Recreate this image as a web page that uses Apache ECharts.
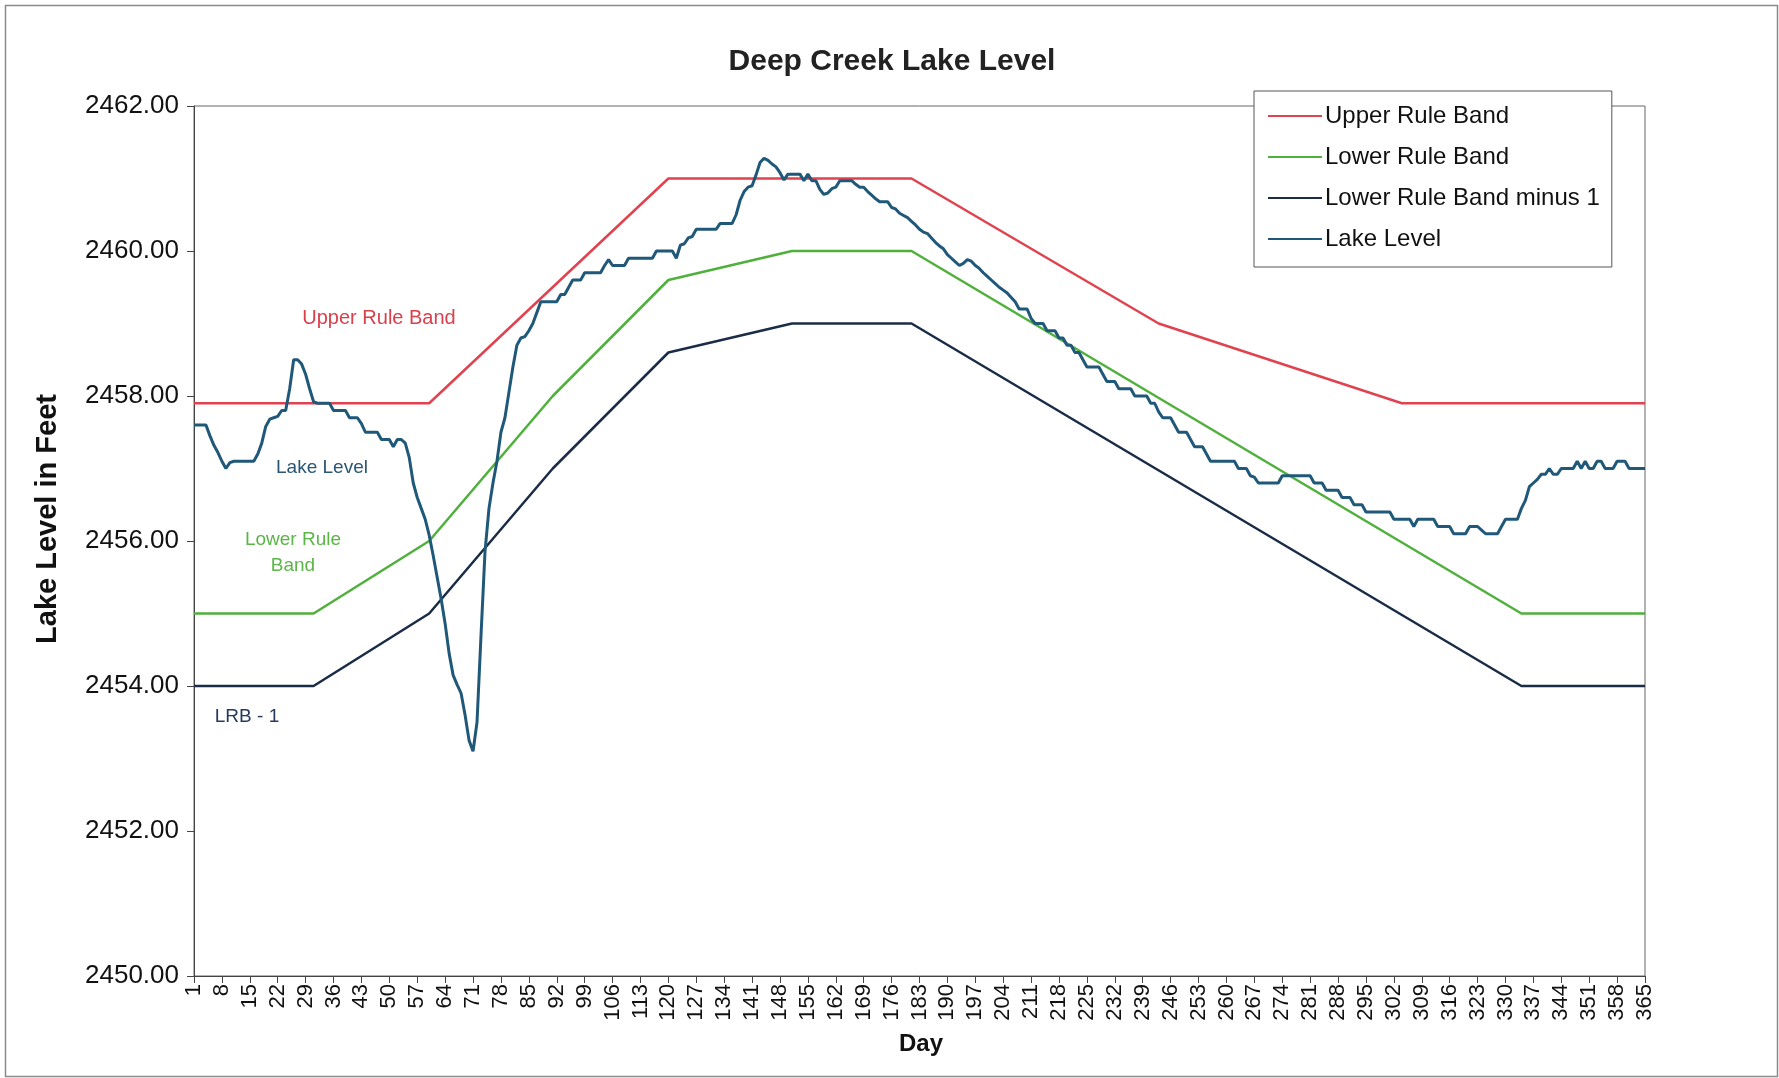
<!DOCTYPE html>
<html>
<head>
<meta charset="utf-8">
<script src="https://cdn.jsdelivr.net/npm/echarts@6/dist/echarts.min.js"></script>
<style>
html,body{margin:0;padding:0;background:#fff;}
#chart{width:1779px;height:1078px;}
</style>
</head>
<body>
<div id="chart"></div>
<script>
// ---- Data ----
const dayCount = 365;
const yTicks = [2450, 2452, 2454, 2456, 2458, 2460, 2462];

// Rule band break points (day, level); straight segments between them
const upperDays = [1, 60, 120, 181, 243, 304, 365];
const upperVals = [2457.9, 2457.9, 2461.0, 2461.0, 2459.0, 2457.9, 2457.9];

const lowerDays = [1, 31, 60, 91, 120, 151, 181, 334, 365];
const lowerVals = [2455.0, 2455.0, 2456.0, 2458.0, 2459.6, 2460.0, 2460.0, 2455.0, 2455.0];

const lrbDays = [1, 31, 60, 91, 120, 151, 181, 334, 365];
const lrbVals = [2454.0, 2454.0, 2455.0, 2457.0, 2458.6, 2459.0, 2459.0, 2454.0, 2454.0];

// Daily lake level, days 1..365
const lakeLevel = [
  2457.6, 2457.6, 2457.6, 2457.6, 2457.45, 2457.32, 2457.22, 2457.1, 2457.0, 2457.08,
  2457.1, 2457.1, 2457.1, 2457.1, 2457.1, 2457.1, 2457.2, 2457.35, 2457.58, 2457.68,
  2457.7, 2457.72, 2457.8, 2457.8, 2458.1, 2458.5, 2458.5, 2458.44, 2458.3, 2458.1,
  2457.92, 2457.9, 2457.9, 2457.9, 2457.9, 2457.8, 2457.8, 2457.8, 2457.8, 2457.7,
  2457.7, 2457.7, 2457.62, 2457.5, 2457.5, 2457.5, 2457.5, 2457.4, 2457.4, 2457.4,
  2457.3, 2457.4, 2457.4, 2457.35, 2457.15, 2456.8, 2456.6, 2456.45, 2456.3, 2456.08,
  2455.8, 2455.5, 2455.2, 2454.86, 2454.45, 2454.15, 2454.02, 2453.9, 2453.6, 2453.25,
  2453.1, 2453.5, 2454.7, 2455.85, 2456.45, 2456.8, 2457.1, 2457.5, 2457.7, 2458.05,
  2458.4, 2458.7, 2458.8, 2458.82, 2458.9, 2459.0, 2459.15, 2459.3, 2459.3, 2459.3,
  2459.3, 2459.3, 2459.4, 2459.4, 2459.5, 2459.6, 2459.6, 2459.6, 2459.7, 2459.7,
  2459.7, 2459.7, 2459.7, 2459.8, 2459.88, 2459.8, 2459.8, 2459.8, 2459.8, 2459.9,
  2459.9, 2459.9, 2459.9, 2459.9, 2459.9, 2459.9, 2460.0, 2460.0, 2460.0, 2460.0,
  2460.0, 2459.9, 2460.08, 2460.1, 2460.18, 2460.2, 2460.3, 2460.3, 2460.3, 2460.3,
  2460.3, 2460.3, 2460.38, 2460.38, 2460.38, 2460.38, 2460.5, 2460.7, 2460.82, 2460.88,
  2460.9, 2461.05, 2461.22, 2461.28, 2461.25, 2461.2, 2461.16, 2461.08, 2460.98, 2461.06,
  2461.06, 2461.06, 2461.06, 2460.97, 2461.06, 2460.97, 2460.97, 2460.85, 2460.78, 2460.8,
  2460.86, 2460.88, 2460.97, 2460.97, 2460.97, 2460.97, 2460.92, 2460.88, 2460.88, 2460.82,
  2460.77, 2460.72, 2460.68, 2460.68, 2460.68, 2460.6, 2460.58, 2460.52, 2460.49, 2460.46,
  2460.41, 2460.36, 2460.3, 2460.26, 2460.24, 2460.18, 2460.12, 2460.07, 2460.03, 2459.95,
  2459.9, 2459.85, 2459.8, 2459.83, 2459.88, 2459.86, 2459.8, 2459.76, 2459.7, 2459.65,
  2459.6, 2459.55, 2459.5, 2459.46, 2459.42, 2459.36, 2459.3, 2459.2, 2459.2, 2459.2,
  2459.07, 2459.0, 2459.0, 2459.0, 2458.9, 2458.9, 2458.9, 2458.8, 2458.8, 2458.7,
  2458.7, 2458.6, 2458.6, 2458.5, 2458.4, 2458.4, 2458.4, 2458.4, 2458.3, 2458.2,
  2458.2, 2458.2, 2458.1, 2458.1, 2458.1, 2458.1, 2458.0, 2458.0, 2458.0, 2458.0,
  2457.9, 2457.9, 2457.78, 2457.7, 2457.7, 2457.7, 2457.6, 2457.5, 2457.5, 2457.5,
  2457.4, 2457.3, 2457.3, 2457.3, 2457.2, 2457.1, 2457.1, 2457.1, 2457.1, 2457.1,
  2457.1, 2457.1, 2457.0, 2457.0, 2457.0, 2456.9, 2456.88, 2456.8, 2456.8, 2456.8,
  2456.8, 2456.8, 2456.8, 2456.9, 2456.9, 2456.9, 2456.9, 2456.9, 2456.9, 2456.9,
  2456.9, 2456.8, 2456.8, 2456.8, 2456.7, 2456.7, 2456.7, 2456.7, 2456.6, 2456.6,
  2456.6, 2456.5, 2456.5, 2456.5, 2456.4, 2456.4, 2456.4, 2456.4, 2456.4, 2456.4,
  2456.4, 2456.3, 2456.3, 2456.3, 2456.3, 2456.3, 2456.2, 2456.3, 2456.3, 2456.3,
  2456.3, 2456.3, 2456.2, 2456.2, 2456.2, 2456.2, 2456.1, 2456.1, 2456.1, 2456.1,
  2456.2, 2456.2, 2456.2, 2456.15, 2456.1, 2456.1, 2456.1, 2456.1, 2456.2, 2456.3,
  2456.3, 2456.3, 2456.3, 2456.45, 2456.56, 2456.75, 2456.8, 2456.85, 2456.92, 2456.92,
  2457.0, 2456.92, 2456.92, 2457.0, 2457.0, 2457.0, 2457.0, 2457.1, 2457.0, 2457.1,
  2457.0, 2457.0, 2457.1, 2457.1, 2457.0, 2457.0, 2457.0, 2457.1, 2457.1, 2457.1,
  2457.0, 2457.0, 2457.0, 2457.0, 2457.0
];

const seriesNames = ['Upper Rule Band', 'Lower Rule Band', 'Lower Rule Band minus 1', 'Lake Level'];
const seriesColors = ['#e0434f', '#4fb03c', '#1b2c47', '#1f5878'];

// ---- Build library inputs ----
const days = Array.from({length: dayCount}, (_, i) => String(i + 1));
function breaksToSeries(bd, bv) {
  const arr = new Array(dayCount).fill(null);
  bd.forEach((d, i) => { arr[d - 1] = bv[i]; });
  return arr;
}

const FONT = "'Liberation Sans', Arial, Helvetica, sans-serif";
const chart = echarts.init(document.getElementById('chart'), null, {renderer: 'canvas'});

const lineBase = {type: 'line', symbol: 'none', showSymbol: false, smooth: false, connectNulls: true, animation: false};

chart.setOption({
  animation: false,
  backgroundColor: '#ffffff',
  textStyle: {fontFamily: FONT},
  grid: {left: 194, right: 134, top: 106, bottom: 102, show: true, borderColor: '#666', borderWidth: 1, backgroundColor: 'transparent'},
  legend: {
    orient: 'vertical', left: 1254, top: 91,
    data: seriesNames,
    backgroundColor: '#ffffff', borderColor: '#555', borderWidth: 1, borderRadius: 0,
    padding: [13, 12, 16, 14], itemGap: 17, itemWidth: 54, itemHeight: 14,
    textStyle: {fontFamily: FONT, fontSize: 24, color: '#111', padding: [0, 0, 0, -2]},
    icon: 'path://M0,6 L54,6 L54,8 L0,8 Z'
  },
  xAxis: {
    type: 'category', data: days, boundaryGap: false,
    axisLine: {show: true, lineStyle: {color: '#444', width: 1}},
    axisTick: {show: true, interval: 6, length: 7, lineStyle: {color: '#444'}},
    axisLabel: {interval: 6, rotate: 90, fontSize: 22, color: '#111', margin: 8, fontFamily: FONT},
    splitLine: {show: false}
  },
  yAxis: {
    type: 'value', min: yTicks[0], max: yTicks[yTicks.length - 1], interval: 2,
    axisLine: {show: true, lineStyle: {color: '#444', width: 1}},
    axisTick: {show: true, length: 7, lineStyle: {color: '#444'}},
    axisLabel: {fontSize: 26, color: '#111', margin: 15, fontFamily: FONT, formatter: v => v.toFixed(2)},
    splitLine: {show: false}
  },
  series: [
    Object.assign({}, lineBase, {name: seriesNames[0], data: breaksToSeries(upperDays, upperVals), lineStyle: {color: seriesColors[0], width: 2.5}, itemStyle: {color: seriesColors[0]}}),
    Object.assign({}, lineBase, {name: seriesNames[1], data: breaksToSeries(lowerDays, lowerVals), lineStyle: {color: seriesColors[1], width: 2.5}, itemStyle: {color: seriesColors[1]}}),
    Object.assign({}, lineBase, {name: seriesNames[2], data: breaksToSeries(lrbDays, lrbVals), lineStyle: {color: seriesColors[2], width: 2.5}, itemStyle: {color: seriesColors[2]}}),
    Object.assign({}, lineBase, {name: seriesNames[3], data: lakeLevel, lineStyle: {color: seriesColors[3], width: 3}, itemStyle: {color: seriesColors[3]}})
  ],
  graphic: [
    {type: 'rect', left: 3, top: 3, z: -10, shape: {width: 1772, height: 1071}, style: {fill: 'none', stroke: '#8a8a8a', lineWidth: 1.5}},
    {type: 'text', x: 892, y: 62, style: {text: 'Deep Creek Lake Level', font: 'bold 30px ' + FONT, fill: '#222', align: 'center', verticalAlign: 'middle'}},
    {type: 'text', x: 48, y: 519, rotation: Math.PI / 2, style: {text: 'Lake Level in Feet', font: 'bold 29px ' + FONT, fill: '#111', align: 'center', verticalAlign: 'middle'}},
    {type: 'text', x: 921, y: 1044, style: {text: 'Day', font: 'bold 24px ' + FONT, fill: '#111', align: 'center', verticalAlign: 'middle'}},
    {type: 'text', x: 379, y: 318, style: {text: 'Upper Rule Band', font: '20px ' + FONT, fill: '#d9404c', align: 'center', verticalAlign: 'middle'}},
    {type: 'text', x: 322, y: 468, style: {text: 'Lake Level', font: '19px ' + FONT, fill: '#2a5674', align: 'center', verticalAlign: 'middle'}},
    {type: 'text', x: 293, y: 540, style: {text: 'Lower Rule', font: '19px ' + FONT, fill: '#5bb548', align: 'center', verticalAlign: 'middle'}},
    {type: 'text', x: 293, y: 566, style: {text: 'Band', font: '19px ' + FONT, fill: '#5bb548', align: 'center', verticalAlign: 'middle'}},
    {type: 'text', x: 247, y: 717, style: {text: 'LRB - 1', font: '19px ' + FONT, fill: '#253a5c', align: 'center', verticalAlign: 'middle'}}
  ]
});
if (lakeLevel.length !== dayCount) console.error('lakeLevel length ' + lakeLevel.length);
</script>
</body>
</html>
